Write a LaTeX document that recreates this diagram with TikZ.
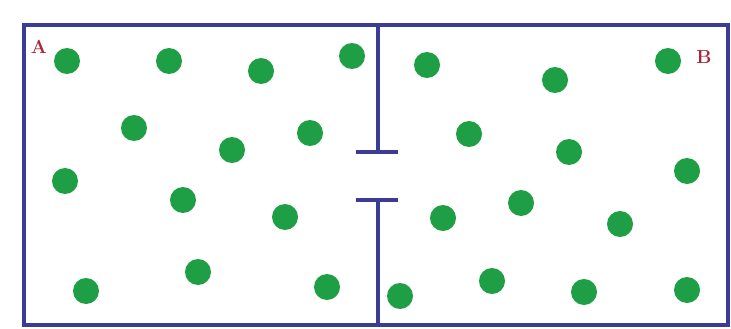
\documentclass[tikz,border=0pt]{standalone}
\begin{document}
\begin{tikzpicture}[x=1pt,y=-1pt,
  wall/.style={draw=boxblue,line width=4pt},
  divider/.style={draw=boxblue,line width=3.2pt},
  dot/.style={circle,fill=dotgreen,draw=none,minimum size=26pt,inner sep=0pt},
  lbl/.style={text=lblred,font=\bfseries\fontsize{19}{19}\selectfont,inner sep=0pt}]
\definecolor{boxblue}{HTML}{3A3C96}
\definecolor{dotgreen}{HTML}{1E9E45}
\definecolor{lblred}{HTML}{A8283A}
\useasboundingbox (0,0) rectangle (731,329);
\fill[white] (0,0) rectangle (731,329);
% container
\draw[wall] (24,25) rectangle (728,325);
% partition with opening
\coordinate (ptop) at (378,25);
\coordinate (pup) at (378,152);
\coordinate (plow) at (378,200);
\coordinate (pbot) at (378,325);
\draw[divider] (ptop) -- (pup);
\draw[divider] (356,152) -- (398,152);
\draw[divider] (356,200) -- (398,200);
\draw[divider] (plow) -- (pbot);
% labels
\node[lbl] (A) at (39,47) {A};
\node[lbl] (B) at (704,57) {B};
% left chamber
\node[dot] (l1) at (67,61) {};
\node[dot] (l2) at (169,61) {};
\node[dot] (l3) at (261,71) {};
\node[dot] (l4) at (352,56) {};
\node[dot] (l5) at (134,128) {};
\node[dot] (l6) at (232,150) {};
\node[dot] (l7) at (310,133) {};
\node[dot] (l8) at (65,181) {};
\node[dot] (l9) at (183,200) {};
\node[dot] (l10) at (285,217) {};
\node[dot] (l11) at (86,291) {};
\node[dot] (l12) at (198,272) {};
\node[dot] (l13) at (327,287) {};
% right chamber
\node[dot] (r1) at (427,65) {};
\node[dot] (r2) at (555,80) {};
\node[dot] (r3) at (668,61) {};
\node[dot] (r4) at (469,134) {};
\node[dot] (r5) at (569,152) {};
\node[dot] (r6) at (687,171) {};
\node[dot] (r7) at (443,218) {};
\node[dot] (r8) at (521,203) {};
\node[dot] (r9) at (620,224) {};
\node[dot] (r10) at (400,296) {};
\node[dot] (r11) at (492,281) {};
\node[dot] (r12) at (584,292) {};
\node[dot] (r13) at (687,290) {};
\end{tikzpicture}
\end{document}
